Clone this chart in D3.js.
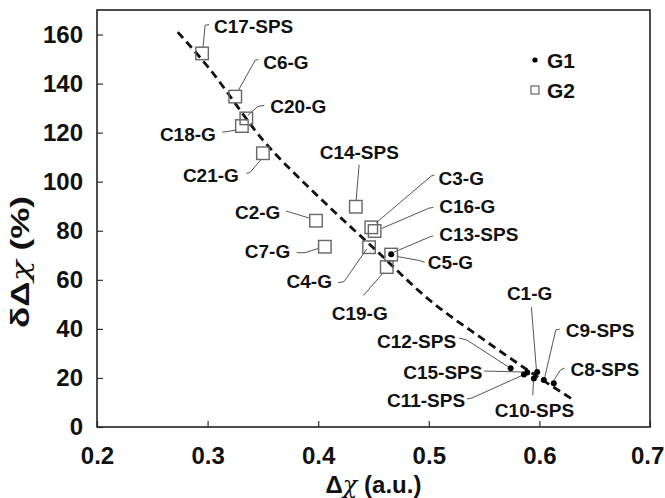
<!DOCTYPE html>
<html>
<head>
<meta charset="utf-8">
<script src="https://cdn.jsdelivr.net/npm/d3@7"></script>
<style>
  body { margin: 0; background: #fff; }
  svg text { font-family: "Liberation Sans", Arial, sans-serif; font-weight: bold; fill: #111; }
</style>
</head>
<body>
<svg id="chart"></svg>
<script>
// G1 (dots)
let g1Names = ["C13-SPS", "C12-SPS", "C15-SPS", "C11-SPS", "C1-G", "C10-SPS", "C9-SPS", "C8-SPS"];
let g1X = [0.466, 0.574, 0.589, 0.586, 0.598, 0.595, 0.604, 0.613];
let g1Y = [70.4, 23.9, 22.2, 21.4, 22.4, 19.8, 19.2, 17.8];

// G2 (open squares)
let g2Names = ["C17-SPS", "C6-G", "C20-G", "C18-G", "C21-G", "C14-SPS", "C2-G", "C7-G",
               "C3-G", "C16-G", "C4-G", "C5-G", "C19-G"];
let g2X = [0.295, 0.325, 0.335, 0.331, 0.350, 0.434, 0.398, 0.406, 0.448, 0.451, 0.446, 0.466, 0.462];
let g2Y = [152.3, 134.7, 125.8, 122.7, 111.6, 89.8, 84.1, 73.5, 81.4, 79.9, 73.3, 70.3, 65.2];

// dashed fit line
let trendX = [0.273, 0.30, 0.35, 0.40, 0.45, 0.50, 0.55, 0.60, 0.632];
let trendY = [161, 147, 117, 94, 73, 52, 35.5, 20, 10.7];

let xTicks = [0.2, 0.3, 0.4, 0.5, 0.6, 0.7];
let yTicks = [0, 20, 40, 60, 80, 100, 120, 140, 160];

let legendItems = ["G1", "G2"];

// label placement: text offset from the point and leader path (pixel offsets)
let labelLayout = [
  {name: "C17-SPS", tx: 12, ty: -20, path: [[7, -29], [3, -28], [1, -6]]},
  {name: "C6-G", tx: 28, ty: -28, path: [[23, -37], [20, -36.5], [3, -6]]},
  {name: "C20-G", tx: 24, ty: -5, path: [[18, -13], [11.5, -12], [1.5, -3]]},
  {name: "C18-G", tx: -82, ty: 15, path: [[-19.5, 6.3], [-5.5, 4]]},
  {name: "C21-G", tx: -80, ty: 29, path: [[-16.5, 20], [-13, 19.4], [-1.5, 6]]},
  {name: "C14-SPS", tx: 3.5, ty: -48, anchor: "middle", path: [[3.3, -42], [0.3, -6]]},
  {name: "C2-G", tx: -81, ty: -1.5, path: [[-30, -9.7], [-6, -2.4]]},
  {name: "C7-G", tx: -80, ty: 11.5, path: [[-28, 6], [-20, 6], [-6, 1.6]]},
  {name: "C4-G", tx: -82.5, ty: 41, path: [[-31, 35.4], [-25, 34.4], [-2.5, 2]]},
  {name: "C19-G", tx: -55, ty: 53, path: [[-23.4, 28.4], [-3.5, 5.7]]},
  {name: "C3-G", tx: 67.3, ty: -42.3, path: [[63.3, -52.3], [60, -51.3], [5, -4.6]]},
  {name: "C16-G", tx: 64.7, ty: -18, path: [[58.7, -23.7], [54, -22.7], [7.4, -2.7]]},
  {name: "C13-SPS", tx: 48, ty: -13.3, path: [[42, -18.3], [39, -17.6], [3, -2.3]]},
  {name: "C5-G", tx: 36.5, ty: 14, path: [[33.5, 7.7], [28.5, 6], [6, 2]]},
  {name: "C12-SPS", tx: -133.7, ty: -20.3, path: [[-51.7, -30.3], [-43.7, -28.3], [-2, -1.3]]},
  {name: "C15-SPS", tx: -124, ty: 6.5, path: [[-43, -1.5], [-3, -0.5]]},
  {name: "C11-SPS", tx: -137, ty: 32.5, path: [[-57, 24.5], [-52, 23.5], [-2, 1]]},
  {name: "C1-G", tx: -30.3, ty: -71.7, path: [[-5.8, -65], [-0.8, -2.7]]},
  {name: "C10-SPS", tx: -39, ty: 38.7, path: [[-1, 16.7], [-0.5, 2.7]]},
  {name: "C9-SPS", tx: 22, ty: -43, path: [[16, -50.7], [12, -50], [1, -3]]},
  {name: "C8-SPS", tx: 16.7, ty: -7.3, path: [[10.7, -15.3], [6.7, -13.3], [0.2, -3.3]]}
];

let margin = {top: 10, right: 15, bottom: 71, left: 97};
let width = 665 - margin.left - margin.right;
let height = 498 - margin.top - margin.bottom;

let svg = d3.select("#chart")
  .attr("width", width + margin.left + margin.right)
  .attr("height", height + margin.top + margin.bottom);

let g = svg.append("g")
  .attr("transform", `translate(${margin.left},${margin.top})`);

let x = d3.scaleLinear().domain([0.2, 0.7]).range([0, width]);
let y = d3.scaleLinear().domain([0, 170]).range([height, 0]);

// axes (ticks pointing inward)
let xAxis = g.append("g")
  .attr("transform", `translate(0,${height})`)
  .call(d3.axisBottom(x).tickValues(xTicks).tickFormat(d3.format(".1f")).tickSize(-6).tickPadding(20));
let yAxis = g.append("g")
  .call(d3.axisLeft(y).tickValues(yTicks).tickFormat(d3.format("d")).tickSize(-6).tickPadding(14));

[xAxis, yAxis].forEach(a => {
  a.select(".domain").remove();
  a.selectAll(".tick line").attr("stroke", "#333").attr("stroke-width", 1.2);
  a.selectAll(".tick text").attr("font-size", 24).attr("font-family", null);
});
// last x label sits on the page edge in the reference, keep it inside
xAxis.selectAll(".tick text").filter(d => d === 0.7).attr("dx", "-0.12em");

g.append("rect")
  .attr("width", width)
  .attr("height", height)
  .attr("fill", "none")
  .attr("stroke", "#222")
  .attr("stroke-width", 1.6);

// fit line
let trend = trendX.map((v, i) => [v, trendY[i]]);
g.append("path")
  .datum(trend)
  .attr("fill", "none")
  .attr("stroke", "#111")
  .attr("stroke-width", 2.8)
  .attr("stroke-dasharray", "8,5")
  .attr("d", d3.line().x(d => x(d[0])).y(d => y(d[1])).curve(d3.curveMonotoneX));

// point lookup for labels
let pos = {};
g1Names.forEach((n, i) => pos[n] = [x(g1X[i]), y(g1Y[i])]);
g2Names.forEach((n, i) => pos[n] = [x(g2X[i]), y(g2Y[i])]);

// leader lines
let leader = d3.line();
g.selectAll("path.leader")
  .data(labelLayout)
  .enter().append("path")
  .attr("class", "leader")
  .attr("fill", "none")
  .attr("stroke", "#555")
  .attr("stroke-width", 1)
  .attr("d", d => leader(d.path.map(p => [pos[d.name][0] + p[0], pos[d.name][1] + p[1]])));

// G2 squares
let sq = 12.5;
g.selectAll("rect.g2")
  .data(g2Names)
  .enter().append("rect")
  .attr("class", "g2")
  .attr("x", (d, i) => x(g2X[i]) - sq / 2)
  .attr("y", (d, i) => y(g2Y[i]) - sq / 2)
  .attr("width", sq)
  .attr("height", sq)
  .attr("fill", "none")
  .attr("stroke", "#666")
  .attr("stroke-width", 1.4);

// G1 dots
g.selectAll("circle.g1")
  .data(g1Names)
  .enter().append("circle")
  .attr("class", "g1")
  .attr("cx", (d, i) => x(g1X[i]))
  .attr("cy", (d, i) => y(g1Y[i]))
  .attr("r", 3)
  .attr("fill", "#000");

// labels
g.selectAll("text.lab")
  .data(labelLayout)
  .enter().append("text")
  .attr("class", "lab")
  .attr("x", d => pos[d.name][0] + d.tx)
  .attr("y", d => pos[d.name][1] + d.ty)
  .attr("text-anchor", d => d.anchor || "start")
  .attr("font-size", 19)
  .text(d => d.name);

// legend
let legend = g.append("g").attr("transform", "translate(438,50)");
legend.append("circle").attr("cx", 0).attr("cy", 0).attr("r", 2.6).attr("fill", "#000");
legend.append("rect").attr("x", -4).attr("y", 26).attr("width", 8).attr("height", 8)
  .attr("fill", "none").attr("stroke", "#666").attr("stroke-width", 1.2);
legend.selectAll("text")
  .data(legendItems)
  .enter().append("text")
  .attr("x", 12)
  .attr("y", (d, i) => i * 30)
  .attr("dy", "0.36em")
  .attr("font-size", 21)
  .text(d => d);

// axis titles
let xt = svg.append("text")
  .attr("x", margin.left + width / 2)
  .attr("y", 493)
  .attr("text-anchor", "middle")
  .attr("font-size", 24);
xt.append("tspan").text("Δ");
xt.append("tspan").attr("font-style", "italic").attr("font-weight", "normal").attr("font-family", "DejaVu Serif, serif").text("χ");
xt.append("tspan").text(" (a.u.)");

let yt = svg.append("text")
  .attr("transform", "translate(29,262) rotate(-90)")
  .attr("text-anchor", "middle")
  .attr("font-size", 25)
  .attr("textLength", 132)
  .attr("lengthAdjust", "spacingAndGlyphs");
yt.append("tspan").text("δΔ");
yt.append("tspan").attr("font-style", "italic").attr("font-weight", "normal").attr("font-family", "DejaVu Serif, serif").text("χ");
yt.append("tspan").text(" (%)");
</script>
</body>
</html>
